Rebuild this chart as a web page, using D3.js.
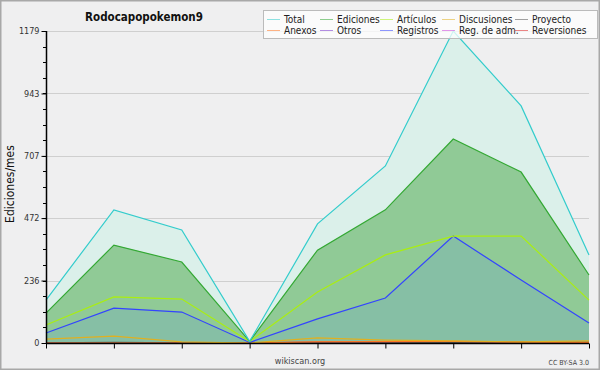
<!DOCTYPE html>
<html>
<head>
<meta charset="utf-8">
<script src="https://cdn.jsdelivr.net/npm/d3@7"></script>
<style>
  body { margin: 0; background: #f0f0f0; }
  svg { display: block; font-family: "DejaVu Sans Condensed", "DejaVu Sans", sans-serif; }
</style>
</head>
<body>
<svg id="chart" width="600" height="370"></svg>
<script>
// months (unlabelled on the x axis)
var months = [0, 1, 2, 3, 4, 5, 6, 7, 8];
var total       = [162, 503, 427, 6, 450, 669, 1179, 896, 333];
var ediciones   = [113, 370, 306, 6, 351, 503, 771, 646, 257];
var articulos   = [68, 174, 166, 6, 193, 333, 404, 404, 162];
var registros   = [38, 132, 117, 2, 91, 170, 404, 238, 76];
var discusiones = [15, 26, 4, 0, 19, 11, 8, 4, 8];
var anexos      = [0, 0, 0, 0, 4, 5, 6, 3, 2];
var reversiones = [0, 0, 0, 0, 3, 3, 5, 3, 1];
var proyecto    = [1, 2, 1, 0, 1, 1, 2, 3, 3];
var otros       = [0, 0, 0, 0, 0, 0, 0, 0, 0];
var regAdm      = [0, 0, 0, 0, 0, 0, 0, 0, 0];
var yMax = 1179;
var yTicks = [0, 236, 472, 707, 943, 1179];

(function() {
var svg = d3.select('#chart');
var W = 600, H = 370;
var pLeft = 46, pRight = 589, pTop = 31, pBottom = 343;

svg.append('rect').attr('x', 0.5).attr('y', 0.5).attr('width', W - 1).attr('height', H - 1)
  .attr('fill', '#efeff0').attr('stroke', '#a8a8a8').attr('stroke-width', 2);

var x = d3.scaleLinear().domain([0, months.length - 1]).range([pLeft, pRight]);
var y = d3.scaleLinear().domain([0, yMax]).range([pBottom, pTop]);

// grid
svg.append('g').selectAll('line').data(yTicks.slice(1)).enter().append('line')
  .attr('x1', pLeft).attr('x2', pRight)
  .attr('y1', function(d) { return Math.round(y(d)) + 0.5; })
  .attr('y2', function(d) { return Math.round(y(d)) + 0.5; })
  .attr('stroke', '#cfcfcf').attr('stroke-width', 1);

var area = function(vals) {
  return d3.area().x(function(d, i) { return x(i); }).y0(y(0)).y1(function(d) { return y(d); })(vals);
};
var line = function(vals) {
  return d3.line().x(function(d, i) { return x(i); }).y(function(d) { return y(d); })(vals);
};

svg.append('path').attr('d', area(total)).attr('fill', '#dbf0ea');
svg.append('path').attr('d', area(ediciones)).attr('fill', '#90ca96');
svg.append('path').attr('d', area(registros)).attr('fill', '#86bfa5');

var series = [
  {name: 'Total', vals: total, color: '#33cccc'},
  {name: 'Ediciones', vals: ediciones, color: '#33a833'},
  {name: 'Artículos', vals: articulos, color: '#aaee11'},
  {name: 'Discusiones', vals: discusiones, color: '#e0b020'},
  {name: 'Proyecto', vals: proyecto, color: '#555555'},
  {name: 'Anexos', vals: anexos, color: '#ff7722'},
  {name: 'Otros', vals: otros, color: '#7733cc'},
  {name: 'Registros', vals: registros, color: '#3344ff'},
  {name: 'Reg. de adm.', vals: regAdm, color: '#cc44dd'},
  {name: 'Reversiones', vals: reversiones, color: '#dd2222'}
];
var drawOrder = [9, 8, 6, 4, 5, 3, 7, 2, 1, 0];
drawOrder.forEach(function(k) {
  var s = series[k];
  svg.append('path').attr('d', line(s.vals)).attr('fill', 'none')
    .attr('stroke', s.color).attr('stroke-width', 1.2);
});

// axes
var yAxis = d3.axisLeft(y).tickValues(yTicks).tickSize(5).tickPadding(2)
  .tickFormat(function(d) { return d; });
var gy = svg.append('g').attr('transform', 'translate(' + (pLeft + 0.5) + ',0)').call(yAxis);
var minor = d3.range(0, 21).map(function(i) { return yMax * i / 20; });
svg.append('g').selectAll('line').data(minor).enter().append('line')
  .attr('x1', pLeft - 3).attr('x2', pLeft)
  .attr('y1', function(d) { return Math.round(y(d)) + 0.5; })
  .attr('y2', function(d) { return Math.round(y(d)) + 0.5; })
  .attr('stroke', '#000');
var xAxis = d3.axisBottom(x).tickValues(months).tickSize(5).tickFormat('');
var gx = svg.append('g').attr('transform', 'translate(0,' + (pBottom + 0.5) + ')').call(xAxis);
[gx, gy].forEach(function(g) {
  g.select('.domain').attr('stroke', '#000').attr('stroke-width', 1.5);
  g.selectAll('.tick line').attr('stroke', '#000');
  g.selectAll('text').attr('font-size', 9).attr('fill', '#333')
    .attr('font-family', '"DejaVu Sans Condensed", "DejaVu Sans", sans-serif');
});
gx.select('.domain').attr('d', 'M' + pLeft + ',0H' + pRight);
gy.select('.domain').attr('d', 'M0,' + pTop + 'V' + pBottom);

// texts
svg.append('text').attr('x', 144).attr('y', 21).attr('text-anchor', 'middle')
  .attr('font-size', 11.5).attr('font-weight', 'bold').attr('fill', '#111').text('Rodocapopokemon9');
svg.append('text').attr('transform', 'translate(14,184) rotate(-90)').attr('text-anchor', 'middle')
  .attr('font-size', 12).attr('fill', '#111').text('Ediciones/mes');
svg.append('text').attr('x', 300).attr('y', 364).attr('text-anchor', 'middle')
  .attr('font-size', 9).attr('fill', '#444').text('wikiscan.org');
svg.append('text').attr('x', 589).attr('y', 365).attr('text-anchor', 'end')
  .attr('font-size', 7).attr('fill', '#444').text('CC BY-SA 3.0');

// legend
var lg = svg.append('g');
lg.append('rect').attr('x', 263.5).attr('y', 10.5).attr('width', 334).attr('height', 28)
  .attr('fill', '#ffffff').attr('fill-opacity', 0.75).attr('stroke', '#bbbbbb');
var colX = [267, 320, 380, 442, 515];
series.forEach(function(s, i) {
  var cx = colX[i % 5], cy = i < 5 ? 19 : 30;
  lg.append('line').attr('x1', cx).attr('x2', cx + 13).attr('y1', cy + 0.5).attr('y2', cy + 0.5)
    .attr('stroke', s.color).attr('stroke-opacity', 0.55);
  lg.append('text').attr('x', cx + 17).attr('y', cy + 4).attr('font-size', 10)
    .attr('fill', '#222').text(s.name);
});
})();
</script>
</body>
</html>
